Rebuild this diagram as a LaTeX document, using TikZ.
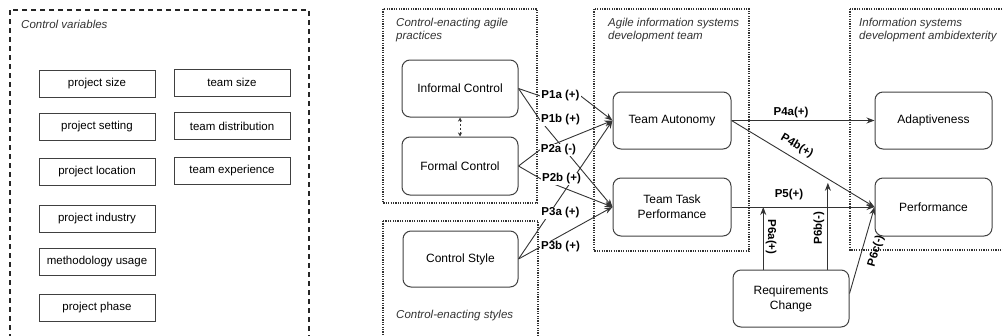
\documentclass[tikz,border=0pt]{standalone}
\usepackage{fontspec}
\setmainfont{Liberation Sans}
\usetikzlibrary{arrows.meta,calc}
\pgfdeclarelayer{edges}
\pgfsetlayers{edges,main}
\begin{document}
\begin{tikzpicture}[x=1pt,y=-1pt,
  cv/.style={draw=black!75, line width=0.9pt, minimum width=116pt, minimum height=27pt, inner sep=0pt, font=\fontsize{11.5}{13}\selectfont},
  rbox/.style={draw=black!75, line width=1pt, rounded corners=8pt, inner sep=0pt, align=center, font=\fontsize{12}{15}\selectfont},
  grp/.style={black!80, line width=1.2pt, dash pattern=on 1.2pt off 1.2pt},
  grpdash/.style={black!85, line width=1.2pt, dash pattern=on 5pt off 4pt},
  glabel/.style={text=black!80, font=\fontsize{11.5}{13}\selectfont\itshape, inner sep=0pt, align=left},
  pl/.style={font=\fontsize{11.5}{13}\selectfont\bfseries, inner sep=1pt},
  plw/.style={pl, fill=white},
  conn/.style={draw=black!80, line width=0.9pt, -{Stealth[length=8pt,width=6pt]}},
]
\useasboundingbox (0,0) rectangle (1003,335);

% group frames
\draw[grpdash] (10,10) rectangle (309,345);
\draw[grp] (383,9) rectangle (537,203);
\draw[grp] (383,221) rectangle (538,345);
\draw[grp] (594,9) rectangle (749,251);
\draw[grp] (850,9) rectangle (1015,250);

% group labels
\node[glabel, anchor=west] (gcv) at (21,24) {Control variables};
\node[glabel, anchor=north west] (gcp) at (396,18) {Control-enacting agile\\practices};
\node[glabel, anchor=north west] (gat) at (608,18) {Agile information systems\\development team};
\node[glabel, anchor=north west] (gis) at (859,18) {Information systems\\development ambidexterity};
\node[glabel, anchor=west] (gcs) at (396,316) {Control-enacting styles};

% control variables
\node[cv] (ps) at (97,83.5) {project size};
\node[cv] (pse) at (97,127) {project setting};
\node[cv] (plo) at (97,172) {project location};
\node[cv] (pin) at (97,219) {project industry};
\node[cv] (mu) at (97,262) {methodology usage};
\node[cv] (pph) at (97,308) {project phase};
\node[cv] (ts) at (232,82.5) {team size};
\node[cv] (td) at (232,126) {team distribution};
\node[cv] (te) at (232,171) {team experience};

% main boxes
\node[rbox, minimum width=116pt, minimum height=57pt] (ic) at (460,88.5) {Informal Control};
\node[rbox, minimum width=116pt, minimum height=58pt] (fc) at (460,166) {Formal Control};
\node[rbox, minimum width=115pt, minimum height=56pt] (cs) at (460.5,259) {Control Style};
\node[rbox, minimum width=118pt, minimum height=57pt] (ta) at (672,120.5) {Team Autonomy};
\node[rbox, minimum width=118pt, minimum height=58pt] (ttp) at (672,207) {Team Task\\Performance};
\node[rbox, minimum width=117pt, minimum height=57pt] (ad) at (933.5,120.5) {Adaptiveness};
\node[rbox, minimum width=117pt, minimum height=58pt] (pf) at (933.5,207) {Performance};
\node[rbox, minimum width=116pt, minimum height=57pt] (rc) at (791,298.5) {Requirements\\Change};

% left labels
\node[plw] (l1a) at (560.5,96) {P1a (+)};
\node[plw] (l1b) at (560.5,120) {P1b (+)};
\node[plw] (l2a) at (558.5,150) {P2a (-)};
\node[plw] (l2b) at (561.5,179) {P2b (+)};
\node[plw] (l3a) at (560.5,213) {P3a (+)};
\node[plw] (l3b) at (560.5,247) {P3b (+)};

% right labels
\node[pl] (l4a) at (791,113) {P4a(+)};
\node[pl, rotate=-30.6] (l4b) at (797,146) {P4b(+)};
\node[pl] (l5) at (789,195) {P5(+)};
\node[pl, rotate=-90] (l6a) at (771,237) {P6a(+)};
\node[pl, rotate=90] (l6b) at (819,228) {P6b(-)};
\node[pl, rotate=73.6] (l6c) at (876,251) {P6c(-)};

\begin{pgfonlayer}{edges}
\draw[conn] (ic.east) -- (l1a.west) -- (l1a.east) -- (ta.west);
\draw[conn] (ic.east) -- (l1b.west) -- (ttp.west);
\draw[conn] (fc.east) -- (l2a.west) -- (ta.west);
\draw[conn] (fc.east) -- (l2b.west) -- (ttp.west);
\draw[conn] (cs.east) -- (ta.west);
\draw[conn] (cs.east) -- (ttp.west);
\draw[conn] (ta.east) -- (ad.west);
\draw[conn] (ta.east) -- coordinate[pos=0.674] (p4bpt) (pf.west);
\draw[conn] (ttp.east) -- coordinate[pos=0.222] (p5pt) (pf.west);
\draw[conn] (rc.north -| p5pt) -- (p5pt);
\draw[conn, shorten >=4pt] (rc.north -| p4bpt) -- (p4bpt);
\draw[conn] ([yshift=5pt]rc.east) -- (pf.west);
\draw[black!80, line width=0.8pt, dash pattern=on 2pt off 2pt, {Stealth[length=4pt,width=4pt]}-{Stealth[length=4pt,width=4pt]}] (ic.south) -- (fc.north);
\end{pgfonlayer}
\end{tikzpicture}
\end{document}
